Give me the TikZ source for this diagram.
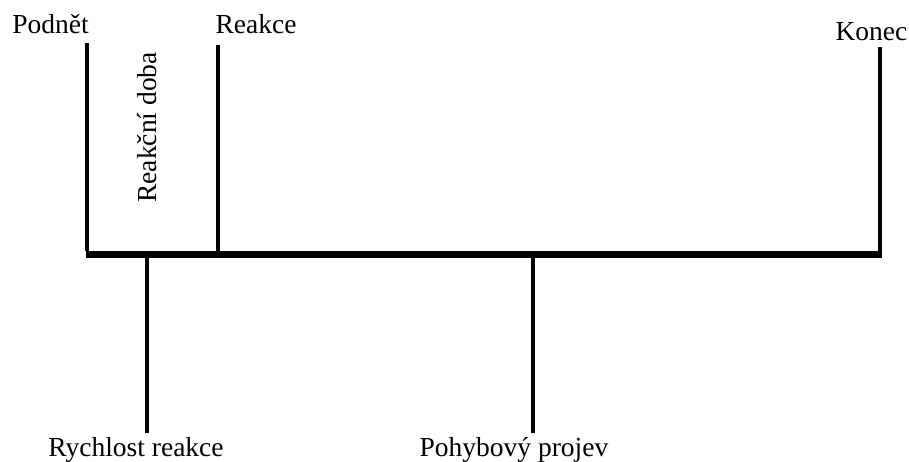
\documentclass[tikz,border=0pt]{standalone}
\usepackage{fontspec}
\setmainfont{Liberation Serif}
\begin{document}
\begin{tikzpicture}[x=1pt,y=-1pt,
  lbl/.style={inner sep=0pt,anchor=base,font=\fontsize{27.5}{31}\selectfont},
  tick/.style={line width=3.2pt},
  axis/.style={line width=7.5pt}]
\useasboundingbox (0,0) rectangle (909,461);

% time axis end points
\coordinate (start) at (85.5,254.5);
\coordinate (stop) at (882,254.5);
\draw[axis] (start) -- (stop);

% upper markers
\coordinate (podT) at (87,43);
\coordinate (podB) at (87,251);
\coordinate (reaT) at (218,45);
\coordinate (reaB) at (218,251);
\coordinate (konT) at (880,47);
\coordinate (konB) at (880,251);
\draw[tick] (podT) -- (podB);
\draw[tick] (reaT) -- (reaB);
\draw[tick] (konT) -- (konB);

% lower markers
\coordinate (ryT) at (147,258);
\coordinate (ryB) at (147,433);
\coordinate (poT) at (533,258);
\coordinate (poB) at (533,433);
\draw[tick] (ryT) -- (ryB);
\draw[tick] (poT) -- (poB);

% labels
\node[lbl] (podnet) at (50.5,33.5) {Podnět};
\node[lbl] (reakce) at (256,33) {Reakce};
\node[lbl] (konec) at (871.5,40) {Konec};
\node[lbl,rotate=90] (doba) at (156,127.5) {Reakční doba};
\node[lbl] (rychlost) at (136,456) {Rychlost reakce};
\node[lbl] (projev) at (514,456) {Pohybový projev};
\end{tikzpicture}
\end{document}
